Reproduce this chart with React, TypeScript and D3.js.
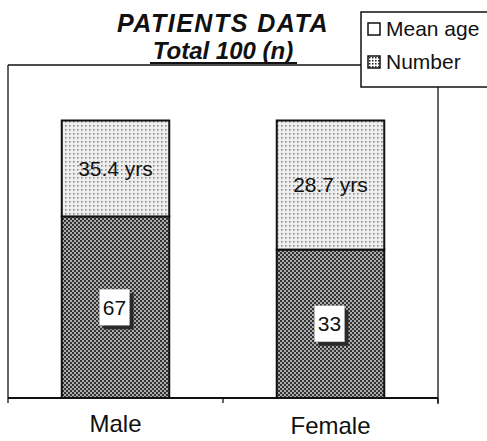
import React from "react";
import * as d3 from "d3";

const categories = ["Male", "Female"];
const numberValues = [67, 33];
const meanAgeValues = [35.4, 28.7];
const seriesNames = ["Number", "Mean age"];
const numberLabels = ["67", "33"];
const meanAgeLabels = ["35.4 yrs", "28.7 yrs"];
const titleLines = ["PATIENTS DATA", "Total 100 (n)"];
const legendItems = ["Mean age", "Number"];

const W = 487;
const H = 441;
const plot = { left: 8, right: 438, top: 65, bottom: 398 };
const FONT = "'Liberation Sans', Arial, sans-serif";

export default function App() {
  const rows = categories.map((c, i) => ({
    cat: c,
    Number: numberValues[i],
    "Mean age": meanAgeValues[i],
  }));
  const stack = d3.stack<any>().keys(seriesNames).offset(d3.stackOffsetExpand);
  const series = stack(rows);

  const x = d3
    .scaleBand<string>()
    .domain(categories)
    .range([plot.left, plot.right])
    .paddingInner(0.5)
    .paddingOuter(0.25);
  const y = d3.scaleLinear().domain([0, 1.2]).range([plot.bottom, plot.top]);

  const fills: Record<string, string> = {
    Number: "url(#patNumber)",
    "Mean age": "url(#patAge)",
  };

  const tickXs = [plot.left, (plot.left + plot.right) / 2, plot.right];

  return (
    <svg
      width={W}
      height={H}
      style={{ position: "absolute", left: 0, top: 0, background: "#fff" }}
      fontFamily={FONT}
    >
      <defs>
        <pattern id="patNumber" width="4" height="4" patternUnits="userSpaceOnUse">
          <rect width="4" height="4" fill="#ababab" />
          <rect x="0" y="0" width="2" height="2" fill="#333" />
          <rect x="2" y="2" width="2" height="2" fill="#333" />
        </pattern>
        <pattern id="patAge" width="4" height="4" patternUnits="userSpaceOnUse">
          <rect width="4" height="4" fill="#eeeeee" />
          <rect x="1" y="1" width="1.6" height="1.6" fill="#8c8c8c" />
        </pattern>
        <pattern id="patLegend" width="3" height="3" patternUnits="userSpaceOnUse">
          <rect width="3" height="3" fill="#fff" />
          <rect x="0" y="0" width="1.5" height="1.5" fill="#222" />
        </pattern>
      </defs>

      {/* frame */}
      <line x1={plot.left} y1={plot.top} x2={plot.right} y2={plot.top} stroke="#111" strokeWidth={1.3} />
      <line x1={plot.left} y1={plot.top} x2={plot.left} y2={plot.bottom} stroke="#111" strokeWidth={1.3} />
      <line x1={plot.right} y1={plot.top} x2={plot.right} y2={plot.bottom + 6} stroke="#111" strokeWidth={1.3} />

      {/* bars */}
      {series.map((s) =>
        s.map((d, i) => (
          <rect
            key={s.key + i}
            x={x(categories[i])}
            y={y(d[1])}
            width={x.bandwidth()}
            height={y(d[0]) - y(d[1])}
            fill={fills[s.key]}
            stroke="#111"
            strokeWidth={2}
          />
        ))
      )}

      {/* axis */}
      <line x1={plot.left} y1={plot.bottom} x2={plot.right} y2={plot.bottom} stroke="#111" strokeWidth={2} />
      {tickXs.map((tx, i) => (
        <line key={i} x1={tx} y1={plot.bottom} x2={tx} y2={plot.bottom + 5} stroke="#111" strokeWidth={1.3} />
      ))}
      {categories.map((c, i) => (
        <text
          key={c}
          x={(x(c) as number) + x.bandwidth() / 2}
          y={432 + i * 2}
          textAnchor="middle"
          fontSize={24}
          fill="#111"
        >
          {c}
        </text>
      ))}

      {/* mean age labels */}
      {series[1].map((d, i) => (
        <text
          key={"ma" + i}
          x={(x(categories[i]) as number) + x.bandwidth() / 2}
          y={(y(d[0]) + y(d[1])) / 2}
          dy="0.35em"
          textAnchor="middle"
          fontSize={21}
          fill="#111"
        >
          {meanAgeLabels[i]}
        </text>
      ))}

      {/* number labels with boxes */}
      {series[0].map((d, i) => {
        const cx = (x(categories[i]) as number) + x.bandwidth() / 2 - 1;
        const cy = (y(d[0]) + y(d[1])) / 2;
        const bw = 30;
        const bh = 36;
        return (
          <g key={"nl" + i}>
            <rect x={cx - bw / 2 + 4} y={cy - bh / 2 + 4} width={bw} height={bh} fill="#2a2a2a" />
            <rect x={cx - bw / 2} y={cy - bh / 2} width={bw} height={bh} fill="#fff" stroke="#bbb" strokeWidth={0.5} />
            <text x={cx} y={cy} dy="0.35em" textAnchor="middle" fontSize={21} fill="#111">
              {numberLabels[i]}
            </text>
          </g>
        );
      })}

      {/* title */}
      <text
        x={223}
        y={32}
        textAnchor="middle"
        fontSize={25}
        letterSpacing={1.5}
        fontWeight="bold"
        fontStyle="italic"
        fill="#111"
      >
        {titleLines[0]}
      </text>
      <text x={223} y={59} textAnchor="middle" fontSize={24} fontWeight="bold" fontStyle="italic" fill="#111">
        {titleLines[1]}
      </text>
      <line x1={150} y1={63} x2={297} y2={63} stroke="#111" strokeWidth={2} />

      {/* legend */}
      <rect x={361} y={12} width={140} height={75} fill="#fff" stroke="#111" strokeWidth={1.5} />
      {legendItems.map((name, i) => {
        const cy = 29 + i * 33;
        return (
          <g key={name}>
            <rect
              x={368}
              y={cy - 6}
              width={12}
              height={12}
              fill={name === "Number" ? "url(#patLegend)" : "#fff"}
              stroke="#111"
              strokeWidth={1.5}
            />
            <text x={386} y={cy} dy="0.35em" fontSize={21} fill="#111">
              {name}
            </text>
          </g>
        );
      })}
    </svg>
  );
}
